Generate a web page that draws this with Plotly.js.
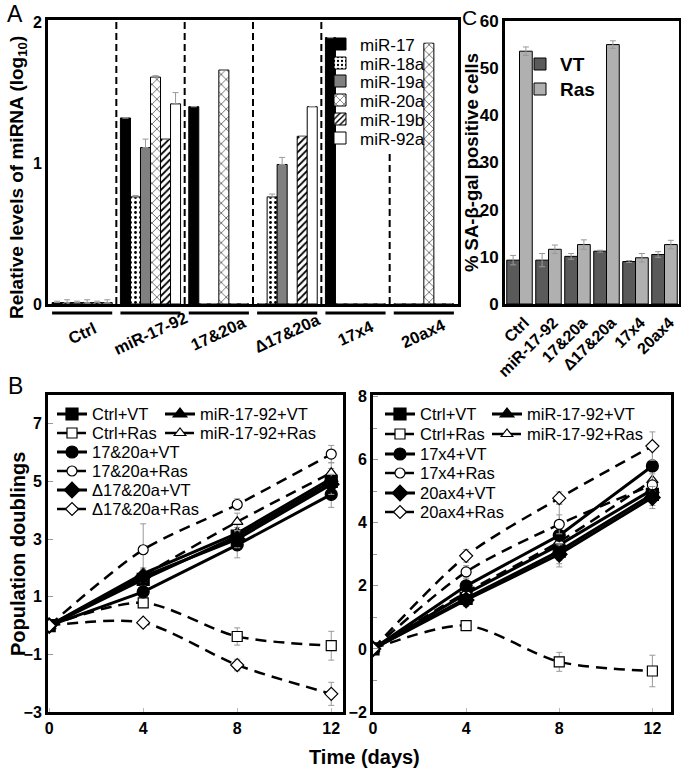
<!DOCTYPE html>
<html>
<head>
<meta charset="utf-8">
<script src="https://cdn.plot.ly/plotly-3.0.1.min.js"></script>
<style>
  html, body { margin: 0; padding: 0; background: #fff; }
  #plot { width: 681px; height: 775px; }
</style>
</head>
<body>
<div id="plot"></div>
<script>
// panel A - miRNA levels per construct (log10)
const aGroups = ['Ctrl', 'miR-17-92', '17&20a', 'Δ17&20a', '17x4', '20ax4'];
const miRNAs = ['miR-17', 'miR-18a', 'miR-19a', 'miR-20a', 'miR-19b', 'miR-92a'];
const mir17 = [0.01, 1.32, 1.40, 0, 1.89, 0];
const mir18a = [0.01, 0.76, 0, 0.76, 0, 0];
const mir19a = [0.01, 1.11, 0, 0.99, 0, 0];
const mir20a = [0.01, 1.61, 1.66, 0, 0, 1.85];
const mir19b = [0.01, 1.17, 0, 1.19, 0, 0];
const mir92a = [0.01, 1.42, 0, 1.40, 0, 0];
const mir17Err = [0.01, 0, 0, 0, 0, 0];
const mir18aErr = [0.02, 0.01, 0, 0.02, 0, 0];
const mir19aErr = [0.01, 0.06, 0, 0.05, 0, 0];
const mir20aErr = [0.02, 0.01, 0, 0, 0, 0];
const mir19bErr = [0.01, 0, 0, 0, 0, 0];
const mir92aErr = [0.02, 0.08, 0, 0, 0, 0];

// panel C - SA-beta-gal
const cGroups = ['Ctrl', 'miR-17-92', '17&20a', 'Δ17&20a', '17x4', '20ax4'];
const vtPct = [9.3, 9.3, 10.1, 11.2, 9.0, 10.5];
const vtErr = [1.0, 1.4, 0.6, 0.2, 0.2, 0.6];
const rasPct = [53.6, 11.6, 12.6, 55.0, 9.8, 12.6];
const rasErr = [0.9, 0.9, 1.0, 0.8, 0.9, 0.9];

// panel B - population doublings
const days = [0, 4, 8, 12];
const ctrlVT_L = [0, 1.6, 3.1, 5.0];
const ctrlRas_L = [0, 0.79, -0.38, -0.7];
const mirVT_L = [0, 1.8, 3.2, 5.1];
const mirRas_L = [0, 1.75, 3.6, 5.3];
const c1720VT = [0, 1.17, 2.8, 4.55];
const c1720Ras = [0, 2.63, 4.2, 5.95];
const d1720VT = [0, 1.7, 3.0, 4.9];
const d1720Ras = [0, 0.1, -1.37, -2.37];

const ctrlVT_R = [0, 1.6, 3.1, 4.9];
const ctrlRas_R = [0, 0.74, -0.41, -0.7];
const mirVT_R = [0, 1.75, 3.3, 5.05];
const mirRas_R = [0, 1.8, 3.4, 5.35];
const x17VT = [0, 2.0, 3.6, 5.8];
const x17Ras = [0, 2.44, 3.95, 5.2];
const x20VT = [0, 1.55, 3.0, 4.8];
const x20Ras = [0, 2.95, 4.78, 6.43];

const errSmall = [0, 0.2, 0.3, 0.35];
const errRasCtrl = [0, 0.1, 0.3, 0.5];
const err1720VT = [0, 0.2, 0.45, 0.45];
const err1720Ras = [0, 0.9, 0.2, 0.3];
const errD1720Ras = [0, 0.1, 0.2, 0.4];
const err17x4VT = [0, 0.5, 1.0, 0.7];
const err20Ras = [0, 0.2, 0.2, 0.45];

const W = 681, H = 775;
const FONT = 'Liberation Sans, Arial, sans-serif';
const px = v => v / W;
const py = v => 1 - v / H;

let data = [];
let legends = {};
let legendCount = 0;

// one legend box per entry, so row spacing can follow the figure
function legendRow(x, rowY, size, bold) {
    legendCount++;
    const key = legendCount === 1 ? 'legend' : 'legend' + legendCount;
    legends[key] = {
        x: px(x), y: py(rowY - (0.65 * size + 4.5)), xanchor: 'left', yanchor: 'top',
        bgcolor: 'rgba(0,0,0,0)', borderwidth: 0,
        font: {family: FONT, size: size, color: 'black', weight: bold ? 'bold' : 'normal'}
    };
    return key;
}

// bars for A
const aVals = [mir17, mir18a, mir19a, mir20a, mir19b, mir92a];
const aErrs = [mir17Err, mir18aErr, mir19aErr, mir20aErr, mir19bErr, mir92aErr];
const aStyles = [
    {color: 'black'},
    {color: 'white', pattern: {shape: '.', fgcolor: 'black', bgcolor: 'white', size: 5, solidity: 0.25}},
    {color: '#808080'},
    {color: 'white', pattern: {shape: 'x', fgcolor: 'black', bgcolor: 'white', size: 7, solidity: 0.15}},
    {color: 'white', pattern: {shape: '/', fgcolor: 'black', bgcolor: 'white', size: 5, solidity: 0.35}},
    {color: 'white'}
];
const aLegendRows = [42, 61, 79, 98, 117, 136];
miRNAs.forEach(function(name, i) {
    data.push({
        type: 'bar', name: name, x: aGroups, y: aVals[i],
        xaxis: 'x', yaxis: 'y', legend: legendRow(320, aLegendRows[i], 17, false),
        marker: Object.assign({line: {color: 'black', width: 1}}, aStyles[i]),
        error_y: {type: 'data', array: aErrs[i], color: '#999', thickness: 1, width: 3, symmetric: false, arrayminus: [0,0,0,0,0,0]}
    });
});

// bars for C
data.push({
    type: 'bar', name: 'VT', x: cGroups, y: vtPct, xaxis: 'x2', yaxis: 'y2', legend: legendRow(520, 62, 19, true),
    marker: {color: '#5a5a5a', line: {color: 'black', width: 1}},
    error_y: {type: 'data', array: vtErr, color: '#999', thickness: 1, width: 3}
});
data.push({
    type: 'bar', name: 'Ras', x: cGroups, y: rasPct, xaxis: 'x2', yaxis: 'y2', legend: legendRow(520, 87, 19, true),
    marker: {color: '#b0b0b0', line: {color: 'black', width: 1}},
    error_y: {type: 'data', array: rasErr, color: '#999', thickness: 1, width: 3}
});

// growth curves
function growth(name, y, err, sym, ras, xa, ya, legX, legY) {
    return {
        type: 'scatter', mode: 'lines+markers', name: name, x: days, y: y,
        xaxis: xa, yaxis: ya, legend: legendRow(legX, legY, 16.5, false),
        line: ras ? {color: 'black', width: 2.5, dash: '11px,7px', shape: 'spline', smoothing: 0.8}
                  : {color: 'black', width: 3},
        marker: {symbol: sym, size: ras ? 10 : 12, color: ras ? 'white' : 'black',
                 line: {color: 'black', width: 1.2}},
        error_y: {type: 'data', array: err, color: '#999', thickness: 1, width: 3}
    };
}

data.push(growth('Ctrl+VT', ctrlVT_L, errSmall, 'square', false, 'x3', 'y3', 52, 412));
data.push(growth('Ctrl+Ras', ctrlRas_L, errRasCtrl, 'square', true, 'x3', 'y3', 52, 431));
data.push(growth('miR-17-92+VT', mirVT_L, errSmall, 'triangle-up', false, 'x3', 'y3', 160, 412));
data.push(growth('miR-17-92+Ras', mirRas_L, errSmall, 'triangle-up', true, 'x3', 'y3', 160, 431));
data.push(growth('17&20a+VT', c1720VT, err1720VT, 'circle', false, 'x3', 'y3', 52, 450));
data.push(growth('17&20a+Ras', c1720Ras, err1720Ras, 'circle', true, 'x3', 'y3', 52, 469));
data.push(growth('Δ17&20a+VT', d1720VT, errSmall, 'diamond', false, 'x3', 'y3', 52, 488));
data.push(growth('Δ17&20a+Ras', d1720Ras, errD1720Ras, 'diamond', true, 'x3', 'y3', 52, 507));

data.push(growth('Ctrl+VT', ctrlVT_R, errSmall, 'square', false, 'x4', 'y4', 380, 412));
data.push(growth('Ctrl+Ras', ctrlRas_R, errRasCtrl, 'square', true, 'x4', 'y4', 380, 432));
data.push(growth('miR-17-92+VT', mirVT_R, errSmall, 'triangle-up', false, 'x4', 'y4', 487, 412));
data.push(growth('miR-17-92+Ras', mirRas_R, errSmall, 'triangle-up', true, 'x4', 'y4', 487, 432));
data.push(growth('17x4+VT', x17VT, err17x4VT, 'circle', false, 'x4', 'y4', 380, 452));
data.push(growth('17x4+Ras', x17Ras, errSmall, 'circle', true, 'x4', 'y4', 380, 471));
data.push(growth('20ax4+VT', x20VT, errSmall, 'diamond', false, 'x4', 'y4', 380, 491));
data.push(growth('20ax4+Ras', x20Ras, err20Ras, 'diamond', true, 'x4', 'y4', 380, 510));

const tickBold = {family: FONT, size: 16, color: 'black', weight: 'bold'};
function frame(extra) {
    return Object.assign({
        showline: true, mirror: true, linecolor: 'black', linewidth: 3,
        showgrid: false, zeroline: false, tickfont: tickBold
    }, extra);
}

let shapes = [];
// separators between construct groups in A
const sepTop = [2.015, 2.015, 2.015, 2.015, 1.07];
sepTop.forEach(function(top, i) {
    shapes.push({type: 'line', xref: 'x', yref: 'y', x0: i + 0.5, x1: i + 0.5, y0: 0, y1: top,
                 line: {color: 'black', width: 2, dash: '7px,4px'}});
});
// underline bars below each group
aGroups.forEach(function(g, i) {
    shapes.push({type: 'line', xref: 'x', yref: 'paper', x0: i - 0.44, x1: i + 0.44, y0: py(313), y1: py(313),
                 line: {color: 'black', width: 3}});
});

let annotations = [];
function ann(text, x, y, size, bold, angle, extra) {
    annotations.push(Object.assign({text: text, x: x, y: y, xref: 'paper', yref: 'paper',
        showarrow: false, xanchor: 'center', yanchor: 'middle', textangle: angle || 0,
        font: {family: FONT, size: size, color: 'black', weight: bold ? 'bold' : 'normal'}}, extra || {}));
}
ann('A', px(15), py(14), 23, false);
ann('B', px(15), py(386), 23, false);
ann('C', px(469), py(17), 21, false);
ann('Relative levels of miRNA (log<sub>10</sub>)', px(18), py(178), 19, true, -90);
ann('% SA-β-gal positive cells', px(472), py(162), 18.5, true, -90);
ann('Population doublings', px(18), py(554), 20, true, -90);
ann('Time (days)', px(364), py(757), 20, true, 0);
aGroups.forEach(function(g, i) {
    ann(g, i, py(333), 16.5, true, -25, {xref: 'x'});
});

const layout = {
    width: W, height: H,
    margin: {l: 0, r: 0, t: 0, b: 0},
    paper_bgcolor: 'white', plot_bgcolor: 'white',
    font: {family: FONT, color: 'black'},
    barmode: 'group', bargap: 0.12, bargroupgap: 0,
    showlegend: true,
    xaxis: frame({domain: [px(48), px(458)], anchor: 'y', showticklabels: false, ticks: ''}),
    yaxis: frame({domain: [py(304), py(20)], anchor: 'x', range: [0, 2.015], tickvals: [0, 1, 2], ticks: ''}),
    xaxis2: frame({domain: [px(505), px(679)], anchor: 'y2', tickangle: -45, ticks: '',
                   ticklabelshift: 5, tickfont: Object.assign({}, tickBold, {size: 16})}),
    yaxis2: frame({domain: [py(304), py(21)], anchor: 'x2', range: [0, 60], dtick: 10, ticks: '',
                   tickfont: Object.assign({}, tickBold, {size: 17})}),
    xaxis3: frame({domain: [px(48), px(343)], anchor: 'y3', range: [-0.05, 12.5], tickvals: [0, 4, 8, 12],
                   ticks: 'inside', ticklen: 4, tickcolor: '#bbb', tickwidth: 1}),
    yaxis3: frame({domain: [py(712), py(395)], anchor: 'x3', range: [-3, 8], tickvals: [-3, -1, 1, 3, 5, 7],
                   ticks: 'inside', ticklen: 5, tickcolor: '#999', tickwidth: 1}),
    xaxis4: frame({domain: [px(373), px(671)], anchor: 'y4', range: [0, 12.8], tickvals: [0, 4, 8, 12],
                   ticks: 'inside', ticklen: 4, tickcolor: '#bbb', tickwidth: 1}),
    yaxis4: frame({domain: [py(712), py(395)], anchor: 'x4', range: [-2, 8.05], tickvals: [-2, 0, 2, 4, 6, 8],
                   ticks: 'inside', ticklen: 5, tickcolor: '#999', tickwidth: 1,
                   minor: {tickvals: [-1, 1, 3, 5, 7], ticks: 'inside', ticklen: 4, tickcolor: '#999'}}),
    shapes: shapes,
    annotations: annotations
};
Object.assign(layout, legends);

Plotly.newPlot('plot', data, layout, {staticPlot: true});
</script>
</body>
</html>
